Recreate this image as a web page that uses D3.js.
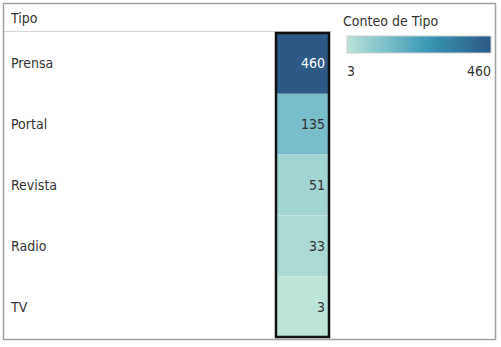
<!DOCTYPE html>
<html>
<head>
<meta charset="utf-8">
<script src="https://cdn.jsdelivr.net/npm/d3@7"></script>
<style>
  body { margin: 0; background: #fff; }
  svg { display: block; font-family: "Liberation Sans Narrow", "DejaVu Sans Condensed", "Roboto", sans-serif; }
</style>
</head>
<body>
<svg width="501" height="347"></svg>
<script>
const categories = ["Prensa", "Portal", "Revista", "Radio", "TV"];
const counts = [460, 135, 51, 33, 3];
const legendTitle = "Conteo de Tipo";
const headerLabel = "Tipo";

// Tableau blue-teal palette
const blueTeal = ["#bce4d8","#aedcd5","#a1d5d2","#95cecf","#89c8cc","#7ec1ca","#72bac6","#66b2c2","#59acbe","#4ba5ba","#419eb6","#3b96b2","#358ead","#3586a7","#347ea1","#32779b","#316f96","#2f6790","#2d608a","#2c5985"];

const svg = d3.select("svg");

const minV = d3.min(counts), maxV = d3.max(counts);
const color = d3.scaleSequential(d3.interpolateRgbBasis(blueTeal)).domain([minV, maxV]);

// outer frame
svg.append("rect")
    .attr("x", 3.5).attr("y", 3.5)
    .attr("width", 492).attr("height", 336)
    .attr("fill", "none").attr("stroke", "#a0a0a0").attr("stroke-width", 1.5);

// header
svg.append("text")
    .attr("x", 11).attr("y", 23)
    .attr("font-size", 14).attr("fill", "#333")
    .text(headerLabel);
svg.append("line")
    .attr("x1", 4).attr("x2", 332).attr("y1", 31.5).attr("y2", 31.5)
    .attr("stroke", "#d4d4d4");

const y = d3.scaleBand().domain(categories).range([33, 337]);
const cellX = 276, cellW = 53;

svg.selectAll(".cell")
    .data(categories)
    .join("rect")
    .attr("class", "cell")
    .attr("x", cellX)
    .attr("y", d => y(d))
    .attr("width", cellW)
    .attr("height", y.bandwidth())
    .attr("fill", (d, i) => color(counts[i]));

// selection outline
svg.append("rect")
    .attr("x", cellX).attr("y", 33)
    .attr("width", cellW).attr("height", 304)
    .attr("fill", "none").attr("stroke", "#111").attr("stroke-width", 2.5);

svg.selectAll(".rowlabel")
    .data(categories)
    .join("text")
    .attr("class", "rowlabel")
    .attr("x", 11)
    .attr("y", d => y(d) + y.bandwidth() / 2 + 5)
    .attr("font-size", 14).attr("fill", "#333")
    .text(d => d);

svg.selectAll(".val")
    .data(categories)
    .join("text")
    .attr("class", "val")
    .attr("x", 325)
    .attr("y", d => y(d) + y.bandwidth() / 2 + 5)
    .attr("text-anchor", "end")
    .attr("font-size", 14)
    .attr("fill", (d, i) => counts[i] > 300 ? "#fff" : "#333")
    .text((d, i) => counts[i]);

// legend
svg.append("text")
    .attr("x", 343).attr("y", 26)
    .attr("font-size", 14).attr("fill", "#333")
    .text(legendTitle);

const grad = svg.append("defs").append("linearGradient").attr("id", "lg");
grad.selectAll("stop")
    .data(blueTeal)
    .join("stop")
    .attr("offset", (d, i) => i / (blueTeal.length - 1))
    .attr("stop-color", d => d);

const lx = d3.scaleLinear().domain([minV, maxV]).range([347, 491]);
svg.append("rect")
    .attr("x", lx(minV)).attr("y", 36)
    .attr("width", lx(maxV) - lx(minV)).attr("height", 17)
    .attr("fill", "url(#lg)")
    .attr("stroke", "#cfcfcf");

svg.append("text")
    .attr("x", lx(minV)).attr("y", 76)
    .attr("font-size", 14).attr("fill", "#333")
    .text(minV);
svg.append("text")
    .attr("x", lx(maxV)).attr("y", 76)
    .attr("text-anchor", "end")
    .attr("font-size", 14).attr("fill", "#333")
    .text(maxV);
</script>
</body>
</html>
